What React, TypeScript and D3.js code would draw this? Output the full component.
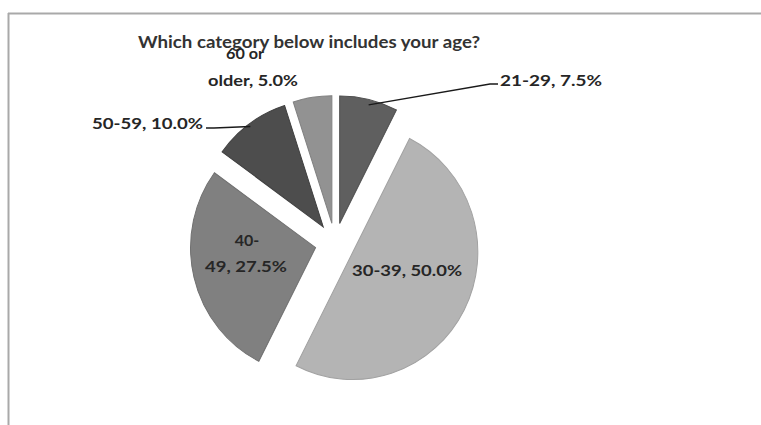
import React from "react";
import * as d3 from "d3";

const categories = ["21-29", "30-39", "40-49", "50-59", "60 or older"];
const values = [7.5, 50.0, 27.5, 10.0, 5.0];
const colors = ["#5f5f5f", "#b4b4b4", "#808080", "#4d4d4d", "#929292"];
const strokes = ["#505050", "#a2a2a2", "#707070", "#404040", "#828282"];
const title = "Which category below includes your age?";

const W = 761;
const H = 425;
const CX = 335;
const CY = 243;
const R = 125;
const EXPLODE = 20;
const FONT = "Lato, 'Open Sans', sans-serif";

export default function App() {
  const pie = d3
    .pie<number>()
    .sort(null)
    .value((d) => d)
    .startAngle(0)
    .endAngle(2 * Math.PI);
  const arcs = pie(values);
  const arc = d3.arc<d3.PieArcDatum<number>>().innerRadius(0).outerRadius(R);
  const fmt = d3.format(".1f");

  const offset = (a: d3.PieArcDatum<number>) => {
    const m = (a.startAngle + a.endAngle) / 2;
    return [Math.sin(m) * EXPLODE, -Math.cos(m) * EXPLODE];
  };
  const edge = (a: d3.PieArcDatum<number>) => {
    const m = (a.startAngle + a.endAngle) / 2;
    const [ox, oy] = offset(a);
    return [CX + ox + Math.sin(m) * (R - 1), CY + oy - Math.cos(m) * (R - 1)];
  };

  const lbl = (i: number) => `${categories[i]}, ${fmt(values[i])}%`;
  const e0 = edge(arcs[0]);
  const e3 = edge(arcs[3]);

  const textStyle = {
    fontFamily: FONT,
    fontWeight: 700,
    fontSize: 16,
    fill: "#262626",
  } as const;

  return (
    <svg
      width={W}
      height={H}
      style={{ position: "absolute", left: 0, top: 0, background: "#fff" }}
    >
      <rect x={0} y={0} width={W} height={H} fill="#fff" />
      <line x1={8} y1={13.5} x2={W} y2={13.5} stroke="#a9a9a9" strokeWidth={2} />
      <line x1={8.5} y1={13} x2={8.5} y2={H} stroke="#a9a9a9" strokeWidth={2} />

      <g>
        {arcs.map((a, i) => {
          const [ox, oy] = offset(a);
          return (
            <path
              key={categories[i]}
              d={arc(a) || ""}
              transform={`translate(${CX + ox},${CY + oy}) scale(1,1.02)`}
              fill={colors[i]}
              stroke={strokes[i]}
              strokeWidth={1}
            />
          );
        })}
      </g>

      {/* leader lines */}
      <polyline
        points={`${e0[0]},${e0[1] + 2} 490,84 498,84`}
        fill="none"
        stroke="#1a1a1a"
        strokeWidth={1.3}
      />
      <polyline
        points={`${e3[0]},${e3[1]} 214,128 206,128`}
        fill="none"
        stroke="#1a1a1a"
        strokeWidth={1.3}
      />

      <text
        x={309}
        y={48}
        textAnchor="middle"
        textLength={342}
        lengthAdjust="spacingAndGlyphs"
        style={{ ...textStyle, fontSize: 17, fill: "#333" }}
      >
        {title}
      </text>

      <text x={500} y={86} textLength={102} lengthAdjust="spacingAndGlyphs" style={textStyle}>
        {lbl(0)}
      </text>
      <text x={92} y={129} textLength={111} lengthAdjust="spacingAndGlyphs" style={textStyle}>
        {lbl(3)}
      </text>
      <text x={245} y={59} textAnchor="middle" textLength={38} lengthAdjust="spacingAndGlyphs" style={textStyle}>
        60 or
      </text>
      <text x={208} y={86} textLength={90} lengthAdjust="spacingAndGlyphs" style={textStyle}>
        {`older, ${fmt(values[4])}%`}
      </text>
      <text x={247} y={246} textAnchor="middle" style={textStyle}>
        40-
      </text>
      <text x={205} y={272} textLength={82} lengthAdjust="spacingAndGlyphs" style={textStyle}>
        {`49, ${fmt(values[2])}%`}
      </text>
      <text x={352} y={276} textLength={110} lengthAdjust="spacingAndGlyphs" style={textStyle}>
        {lbl(1)}
      </text>
    </svg>
  );
}
